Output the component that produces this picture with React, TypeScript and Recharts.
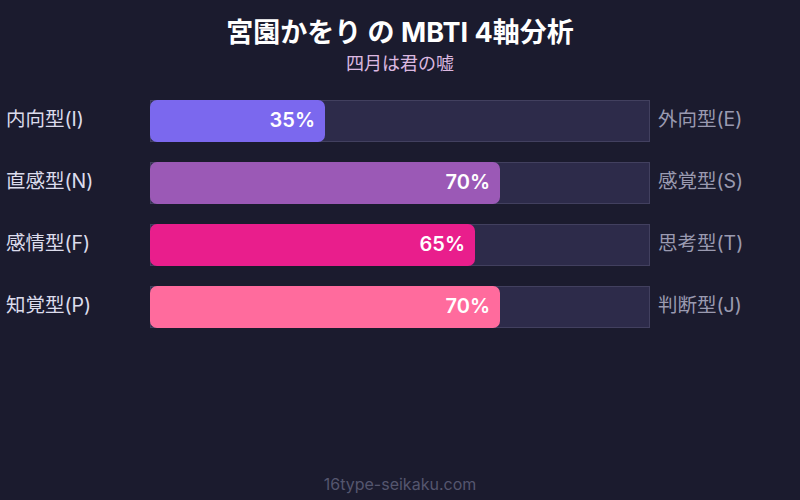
import React from "react";
import { BarChart, Bar, XAxis, YAxis, LabelList } from "recharts";

// MBTI axes: left pole, right pole, score toward the left pole
const leftTypes = ["内向型(I)", "直感型(N)", "感情型(F)", "知覚型(P)"];
const rightTypes = ["外向型(E)", "感覚型(S)", "思考型(T)", "判断型(J)"];
const scores = [35, 70, 65, 70];
const barColors = ["#7b68ee", "#9b59b6", "#e91e8c", "#ff6b9d"];

const FONT = "Inter, 'Noto Sans CJK JP', 'Noto Sans', sans-serif";

const data = leftTypes.map((left, i) => ({
  left,
  right: rightTypes[i],
  score: scores[i],
  color: barColors[i],
}));

const BarShape = (props: any) => {
  const { x, y, width, height, payload } = props;
  if (!width || width <= 0) return null;
  return (
    <rect
      x={x}
      y={y}
      width={width}
      height={height}
      rx={7}
      ry={7}
      fill={payload.color}
    />
  );
};

const Track = (props: any) => {
  const { x, y, width, height } = props;
  return (
    <rect
      x={x + 0.5}
      y={y + 0.5}
      width={width - 1}
      height={height - 1}
      fill="#2d2b4a"
      stroke="#42405f"
      strokeWidth={1}
    />
  );
};

const ValueLabel = (props: any) => {
  const { x, y, width, height, value } = props;
  return (
    <text
      x={x + width - 10}
      y={y + height / 2 - 1}
      fill="#ffffff"
      textAnchor="end"
      dominantBaseline="central"
      fontSize={20}
      fontWeight={600}
      fontFamily={FONT}
    >
      {value}%
    </text>
  );
};

const LeftTick = (props: any) => {
  const { y, payload } = props;
  return (
    <text
      x={6}
      y={y - 2}
      fill="#dcdcec"
      fontSize={19.5}
      fontFamily={FONT}
      textAnchor="start"
      dominantBaseline="central"
    >
      {payload.value}
    </text>
  );
};

const RightTick = (props: any) => {
  const { y, payload } = props;
  return (
    <text
      x={658}
      y={y - 2}
      fill="#9a9ab0"
      fontSize={19.5}
      fontFamily={FONT}
      textAnchor="start"
      dominantBaseline="central"
    >
      {payload.value}
    </text>
  );
};

export default function App() {
  return (
    <div
      style={{
        position: "absolute",
        left: 0,
        top: 0,
        width: 800,
        height: 500,
        background: "#1b1b2e",
        fontFamily: FONT,
      }}
    >
      <div
        style={{
          position: "absolute",
          top: 15,
          width: 800,
          textAlign: "center",
          color: "#ffffff",
          fontSize: 27,
          fontWeight: 700,
          lineHeight: "36px",
        }}
      >
        宮園かをり の MBTI 4軸分析
      </div>
      <div
        style={{
          position: "absolute",
          top: 52,
          width: 800,
          textAlign: "center",
          color: "#dcb8e0",
          fontSize: 18,
          lineHeight: "24px",
        }}
      >
        四月は君の嘘
      </div>
      <BarChart
        width={800}
        height={500}
        data={data}
        layout="vertical"
        margin={{ top: 90, right: 0, bottom: 162, left: 0 }}
        barCategoryGap={10}
      >
        <XAxis type="number" domain={[0, 100]} hide />
        <YAxis
          yAxisId="left"
          type="category"
          dataKey="left"
          width={150}
          axisLine={false}
          tickLine={false}
          tick={LeftTick}
        />
        <YAxis
          yAxisId="right"
          orientation="right"
          type="category"
          dataKey="right"
          width={150}
          axisLine={false}
          tickLine={false}
          tick={RightTick}
        />
        <Bar
          yAxisId="left"
          dataKey="score"
          barSize={42}
          shape={BarShape}
          background={Track}
          isAnimationActive={false}
        >
          <LabelList dataKey="score" content={ValueLabel} />
        </Bar>
      </BarChart>
      <div
        style={{
          position: "absolute",
          top: 473,
          width: 800,
          textAlign: "center",
          color: "#55566e",
          fontSize: 16,
          lineHeight: "22px",
        }}
      >
        16type-seikaku.com
      </div>
    </div>
  );
}
